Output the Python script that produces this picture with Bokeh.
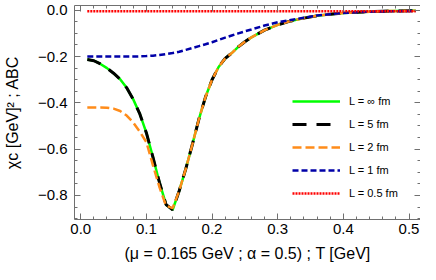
from bokeh.plotting import figure
from bokeh.models import Range1d, LinearAxis, SingleIntervalTicker, CustomJSTickFormatter
from bokeh.embed import file_html
from bokeh.resources import INLINE

# ---- data ----
T_main = [0.01, 0.02, 0.03, 0.04, 0.05, 0.06, 0.07, 0.08, 0.09, 0.10, 0.11, 0.12,
          0.13, 0.14, 0.15, 0.16, 0.17, 0.18, 0.19, 0.20, 0.21, 0.22, 0.23, 0.24,
          0.25, 0.26, 0.28, 0.30, 0.32, 0.34, 0.36, 0.38, 0.40, 0.43, 0.46, 0.50, 0.51]
chi_inf = [-0.213, -0.218, -0.232, -0.250, -0.272, -0.298, -0.335, -0.385, -0.448, -0.530,
           -0.635, -0.745, -0.840, -0.862, -0.780, -0.685, -0.580, -0.470, -0.375, -0.300,
           -0.245, -0.208, -0.185, -0.158, -0.136, -0.117, -0.086, -0.063, -0.046, -0.034,
           -0.024, -0.017, -0.012, -0.007, -0.004, -0.002, -0.002]
chi_L5 = [-0.213, -0.218, -0.232, -0.250, -0.272, -0.298, -0.335, -0.385, -0.448, -0.530,
          -0.635, -0.745, -0.840, -0.862, -0.780, -0.685, -0.580, -0.470, -0.375, -0.300,
          -0.245, -0.208, -0.185, -0.158, -0.136, -0.117, -0.086, -0.063, -0.046, -0.034,
          -0.024, -0.017, -0.012, -0.007, -0.004, -0.002, -0.002]
chi_L2 = [-0.420, -0.420, -0.420, -0.421, -0.425, -0.435, -0.455, -0.485, -0.525, -0.570,
          -0.670, -0.765, -0.845, -0.855, -0.780, -0.685, -0.580, -0.470, -0.375, -0.300,
          -0.245, -0.208, -0.185, -0.158, -0.136, -0.117, -0.086, -0.063, -0.046, -0.034,
          -0.024, -0.017, -0.012, -0.007, -0.004, -0.002, -0.002]
chi_L1 = [-0.200, -0.200, -0.200, -0.200, -0.200, -0.200, -0.200, -0.200, -0.199, -0.198,
          -0.196, -0.193, -0.189, -0.185, -0.179, -0.171, -0.163, -0.155, -0.147, -0.138,
          -0.128, -0.118, -0.109, -0.100, -0.091, -0.083, -0.066, -0.052, -0.042, -0.032,
          -0.023, -0.017, -0.012, -0.007, -0.005, -0.003, -0.003]
chi_L05 = [-0.004] * 37

series = [
    ("L = ∞ fm", chi_inf, "#00FF00", 2.5, "solid"),
    ("L = 5 fm", chi_L5, "#000000", 3.0, "14 10"),
    ("L = 2 fm", chi_L2, "#FF8C1A", 2.5, "9 4"),
    ("L = 1 fm", chi_L1, "#0000A8", 2.5, "6 3"),
    ("L = 0.5 fm", chi_L05, "#FF0000", 2.5, "2 1"),
]

x_label = "(μ = 0.165 GeV ; α = 0.5) ; T [GeV]"
y_label = "χc [GeV]² ; ABC"

FONT = "Liberation Sans"
AXIS_COLOR = "#707070"

p = figure(width=420, height=264,
           x_range=Range1d(-0.0095, 0.5175), y_range=Range1d(-0.904, 0.0206),
           output_backend="svg", toolbar_location=None,
           min_border_left=71, min_border_right=0, min_border_top=5, min_border_bottom=45)
p.grid.visible = False
p.outline_line_color = None
p.background_fill_color = "white"

fmt = CustomJSTickFormatter(code="""
    if (Math.abs(tick) < 1e-9) { return '0.0'; }
    return (tick < 0 ? '\u2212' : '') + Math.abs(tick).toFixed(1);
""")

def style(ax, labels=True):
    ax.axis_line_color = AXIS_COLOR
    ax.major_tick_line_color = AXIS_COLOR
    ax.minor_tick_line_color = AXIS_COLOR
    ax.major_tick_in = 6
    ax.major_tick_out = 0
    ax.minor_tick_in = 3
    ax.minor_tick_out = 0
    if labels:
        ax.major_label_text_font = FONT
        ax.major_label_text_font_size = "15px"
        ax.major_label_text_color = "black"
        ax.major_label_standoff = 4
        ax.axis_label_text_font = FONT
        ax.axis_label_text_font_size = "16px"
        ax.axis_label_text_font_style = "normal"
        ax.axis_label_text_color = "black"
        ax.axis_label_standoff = 8
        ax.formatter = fmt
    else:
        ax.major_label_text_font_size = "0px"
        ax.major_label_text_color = None
        ax.major_label_standoff = 0
        ax.axis_label = None

xt = SingleIntervalTicker(interval=0.1, num_minor_ticks=5)
yt = SingleIntervalTicker(interval=0.2, num_minor_ticks=4)

p.xaxis.ticker = xt
p.yaxis.ticker = yt
p.xaxis.axis_label = x_label
p.yaxis.axis_label = y_label
style(p.xaxis[0])
style(p.yaxis[0])
p.yaxis[0].major_label_standoff = 7
p.yaxis[0].axis_label_standoff = 14

top_ax = LinearAxis(ticker=xt)
right_ax = LinearAxis(ticker=yt)
style(top_ax, labels=False)
style(right_ax, labels=False)
p.add_layout(top_ax, "above")
p.add_layout(right_ax, "right")

for label, ys, color, w, dash in series:
    p.line(T_main, ys, line_color=color, line_width=w, line_dash=dash,
           line_cap="butt", legend_label=label)

lg = p.legend[0]
lg.location = (218, 16)
lg.padding = 0
lg.margin = 0
lg.spacing = 3
lg.label_height = 20
lg.glyph_height = 20
lg.glyph_width = 48
lg.label_standoff = 9
lg.border_line_color = None
lg.background_fill_alpha = 0
lg.label_text_font = FONT
lg.label_text_font_size = "11px"
lg.label_text_color = "black"

open("out.html", "w").write(file_html(p, INLINE))
